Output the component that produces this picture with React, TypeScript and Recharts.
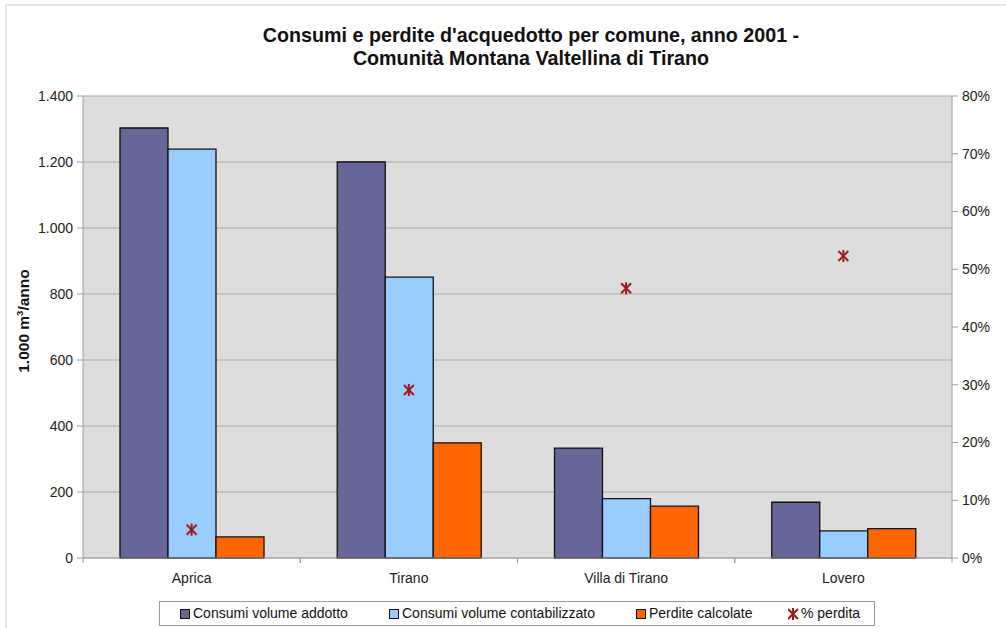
import React from 'react';
import {
  ComposedChart,
  Bar,
  Scatter,
  XAxis,
  YAxis,
  CartesianGrid,
} from 'recharts';

// Municipalities of the Comunità Montana Valtellina di Tirano
const comuni = ['Aprica', 'Tirano', 'Villa di Tirano', 'Lovero'];

// Volumes in thousands of m³ per year
const volumeAddotto = [1303, 1200, 333, 169];
const volumeContabilizzato = [1239, 851, 180, 82];
const perditeCalcolate = [64, 349, 157, 89];

// Loss share (percent of the supplied volume)
const percentualePerdita = [4.9, 29.1, 46.7, 52.3];

const leftTicks = [0, 200, 400, 600, 800, 1000, 1200, 1400];
const rightTicks = [0, 10, 20, 30, 40, 50, 60, 70, 80];

const seriesNames = [
  'Consumi volume addotto',
  'Consumi volume contabilizzato',
  'Perdite calcolate',
  '% perdita',
];

const COLORS = {
  addotto: '#666699',
  contabilizzato: '#99ccff',
  perdite: '#ff6600',
  perdita: '#a01818',
};

const data = comuni.map((c, i) => ({
  comune: c,
  addotto: volumeAddotto[i],
  contabilizzato: volumeContabilizzato[i],
  perdite: perditeCalcolate[i],
  perdita: percentualePerdita[i],
}));

const FONT = '"Liberation Sans", Arial, Helvetica, sans-serif';
const TICK_FONT = 14;

const formatThousands = (v: number) =>
  v.toString().replace(/\B(?=(\d{3})+(?!\d))/g, '.');

// Excel-style "star" marker: an X crossed by a vertical stroke
const StarMarker = (props: any) => {
  const { cx, cy } = props;
  if (cx == null || cy == null) return null;
  const r = 5;
  return (
    <g stroke={COLORS.perdita} strokeWidth={2}>
      <line x1={cx - r} y1={cy - r} x2={cx + r} y2={cy + r} />
      <line x1={cx - r} y1={cy + r} x2={cx + r} y2={cy - r} />
      <line x1={cx} y1={cy - r - 1} x2={cx} y2={cy + r + 1} />
    </g>
  );
};

// Category labels, with tick marks placed on the category boundaries
const CategoryTick = (props: any) => {
  const { x, y, payload } = props;
  const half = payload && payload.offset ? payload.offset : 0;
  return (
    <g>
      {half > 0 && (
        <>
          <line x1={x - half} y1={y - 8} x2={x - half} y2={y - 3} stroke="#999" />
          <line x1={x + half} y1={y - 8} x2={x + half} y2={y - 3} stroke="#999" />
        </>
      )}
      <text
        x={x}
        y={y + 17}
        textAnchor="middle"
        fontSize={TICK_FONT}
        fill="#222"
        fontFamily={FONT}
      >
        {payload.value}
      </text>
    </g>
  );
};

const AxisTitle = () => (
  <text
    transform="translate(29,321) rotate(-90)"
    textAnchor="middle"
    fontSize={15.5}
    fontWeight="bold"
    fill="#111"
    fontFamily={FONT}
  >
    1.000 m
    <tspan dy={-6} fontSize={9.5}>
      3
    </tspan>
    <tspan dy={6}>/anno</tspan>
  </text>
);

const legendSwatches = [COLORS.addotto, COLORS.contabilizzato, COLORS.perdite];

export default function App() {
  return (
    <div
      style={{
        position: 'absolute',
        left: 0,
        top: 0,
        width: 1006,
        height: 628,
        background: '#fff',
        fontFamily: FONT,
        overflow: 'hidden',
      }}
    >
      {/* chart frame */}
      <div
        style={{
          position: 'absolute',
          left: 5,
          top: 4,
          width: 1010,
          height: 640,
          borderLeft: '2px solid #e4e4e4',
          borderTop: '2px solid #e4e4e4',
        }}
      />
      {/* title */}
      <div
        style={{
          position: 'absolute',
          left: 0,
          width: 1062,
          top: 24,
          textAlign: 'center',
          fontWeight: 'bold',
          fontSize: 19.7,
          lineHeight: '23px',
          color: '#111',
        }}
      >
        Consumi e perdite d'acquedotto per comune, anno 2001 -
        <br />
        Comunità Montana Valtellina di Tirano
      </div>

      <div style={{ position: 'absolute', left: 0, top: 0 }}>
        <ComposedChart
          width={1006}
          height={628}
          data={data}
          margin={{ top: 96, right: 10, bottom: 40, left: 23 }}
          barGap={0}
        >
          <CartesianGrid
            vertical={false}
            stroke="#a8a8a8"
            strokeWidth={1.2}
            fill="#dddddd"
            yAxisId="left"
          />
          <XAxis
            dataKey="comune"
            height={30}
            tickLine={false}
            axisLine={{ stroke: '#a0a0a0' }}
            tick={<CategoryTick />}
            interval={0}
          />
          <YAxis
            yAxisId="left"
            orientation="left"
            width={60}
            domain={[0, 1400]}
            ticks={leftTicks}
            tickFormatter={formatThousands}
            axisLine={{ stroke: '#a0a0a0' }}
            tickLine={{ stroke: '#a0a0a0' }}
            tickSize={6}
            tickMargin={4}
            tick={{ fontSize: TICK_FONT, fill: '#222', fontFamily: FONT }}
            interval={0}
          />
          <YAxis
            yAxisId="right"
            orientation="right"
            width={44}
            domain={[0, 80]}
            ticks={rightTicks}
            tickFormatter={(v: number) => `${v}%`}
            axisLine={{ stroke: '#a0a0a0' }}
            tickLine={{ stroke: '#a0a0a0' }}
            tickSize={6}
            tickMargin={4}
            tick={{ fontSize: TICK_FONT, fill: '#222', fontFamily: FONT }}
            interval={0}
          />
          <Bar
            yAxisId="left"
            dataKey="addotto"
            name={seriesNames[0]}
            fill={COLORS.addotto}
            stroke="#111"
            strokeWidth={1.3}
            barSize={48}
            isAnimationActive={false}
          />
          <Bar
            yAxisId="left"
            dataKey="contabilizzato"
            name={seriesNames[1]}
            fill={COLORS.contabilizzato}
            stroke="#111"
            strokeWidth={1.3}
            barSize={48}
            isAnimationActive={false}
          />
          <Bar
            yAxisId="left"
            dataKey="perdite"
            name={seriesNames[2]}
            fill={COLORS.perdite}
            stroke="#111"
            strokeWidth={1.3}
            barSize={48}
            isAnimationActive={false}
          />
          <Scatter
            yAxisId="right"
            dataKey="perdita"
            name={seriesNames[3]}
            shape={<StarMarker />}
            isAnimationActive={false}
          />
          <AxisTitle />
        </ComposedChart>
      </div>

      {/* legend */}
      <div
        style={{
          position: 'absolute',
          left: 159,
          top: 601,
          width: 716,
          height: 25,
          border: '1px solid #9a9a9a',
          background: '#fff',
          boxSizing: 'border-box',
          fontSize: 14,
          color: '#111',
        }}
      >
        {seriesNames.map((name, i) => {
          const lefts = [20, 229, 476, 628];
          return (
            <div
              key={name}
              style={{
                position: 'absolute',
                left: lefts[i],
                top: 3,
                display: 'flex',
                alignItems: 'center',
                whiteSpace: 'nowrap',
                lineHeight: '17px',
              }}
            >
              {i < 3 ? (
                <span
                  style={{
                    display: 'inline-block',
                    width: 8,
                    height: 8,
                    background: legendSwatches[i],
                    border: '1px solid #111',
                    marginRight: 3,
                  }}
                />
              ) : (
                <svg width={11} height={12} style={{ marginRight: 2 }}>
                  <StarMarker cx={5} cy={6} />
                </svg>
              )}
              <span>{name}</span>
            </div>
          );
        })}
      </div>
    </div>
  );
}
